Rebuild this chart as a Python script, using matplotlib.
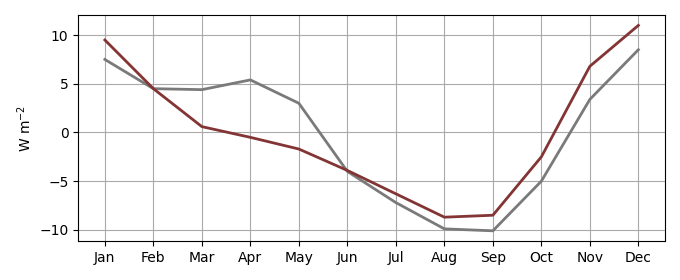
import matplotlib
matplotlib.use("Agg")
import matplotlib.pyplot as plt

months = ["Jan", "Feb", "Mar", "Apr", "May", "Jun",
          "Jul", "Aug", "Sep", "Oct", "Nov", "Dec"]
grey_vals = [7.5, 4.5, 4.4, 5.4, 3.0, -4.0, -7.2, -9.9, -10.1, -5.0, 3.4, 8.5]
red_vals = [9.5, 4.5, 0.6, -0.5, -1.7, -3.9, -6.3, -8.7, -8.5, -2.5, 6.8, 11.0]

fig = plt.figure(figsize=(6.8, 2.8), dpi=100)
ax = fig.add_axes([0.115, 0.139, 0.863, 0.807])

x = range(len(months))
ax.plot(x, grey_vals, color="#7a7a7a", linewidth=2)
ax.plot(x, red_vals, color="#833535", linewidth=2)

ax.set_xticks(list(x))
ax.set_xticklabels(months)
ax.set_ylabel(r"W m$^{-2}$")
ax.grid(True, color="#aaaaaa")
ax.set_axisbelow(True)

fig.savefig("out.png", dpi=100)
